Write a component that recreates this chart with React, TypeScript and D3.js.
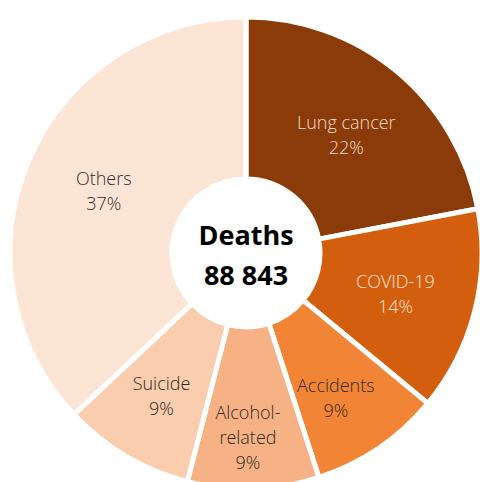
import React, { useRef, useEffect } from 'react';
import * as d3 from 'd3';

// data (share of deaths, %)
const causes = ['Lung cancer', 'COVID-19', 'Accidents', 'Alcohol-related', 'Suicide', 'Others'];
const shares = [22, 14, 9, 9, 9, 37];
const labelLines = [['Lung cancer'], ['COVID-19'], ['Accidents'], ['Alcohol-', 'related'], ['Suicide'], ['Others']];
const centerTitle = 'Deaths';
const centerTotal = '88 843';

const colors = ['#8b3b07', '#d35f0e', '#f28535', '#f6b285', '#f9cdad', '#fde5d6'];
const textColors = ['#f3dccb', '#fbe3d3', '#33291f', '#33291f', '#33291f', '#33291f'];
// label placement tweaks (angle shift in degrees, radius in px)
const labelAngleShift = [0.7, 1, 2.5, 1.2, 0, 0];
const labelRadius = [155, 155, 171, 185, 166, 155];

function App() {
  const svgRef = useRef(null);

  useEffect(() => {
    const w = 480;
    const h = 482;
    const cx = 246;
    const cy = 253;
    const outerR = 236;
    const innerR = 74;

    const svg = d3.select(svgRef.current).attr('width', w).attr('height', h);
    svg.selectAll('*').remove();

    const data = causes.map((c, i) => ({ cause: c, value: shares[i], i }));
    const pie = d3.pie<any>().value((d: any) => d.value).sort(null);
    const arcs = pie(data);
    const arc = d3.arc<any>().innerRadius(innerR).outerRadius(outerR);

    const g = svg.append('g').attr('transform', `translate(${cx},${cy})`);

    g.selectAll('path.slice')
      .data(arcs)
      .join('path')
      .attr('class', 'slice')
      .attr('d', arc as any)
      .attr('fill', (d: any) => colors[d.data.i])
      .attr('stroke', '#fff')
      .attr('stroke-width', 5)
      .attr('stroke-linejoin', 'miter');

    // slice labels
    arcs.forEach((a: any) => {
      const i = a.data.i;
      const mid = (a.startAngle + a.endAngle) / 2 + (labelAngleShift[i] * Math.PI) / 180;
      const x = Math.sin(mid) * labelRadius[i];
      const y = -Math.cos(mid) * labelRadius[i];
      const lines = [...labelLines[i], `${shares[i]}%`];
      const lh = 25;
      const t = g
        .append('text')
        .attr('text-anchor', 'middle')
        .attr('font-family', 'Open Sans, sans-serif')
        .attr('font-weight', 300)
        .attr('font-size', 18)
        .attr('fill', textColors[i]);
      lines.forEach((ln, k) => {
        t.append('tspan')
          .attr('x', x)
          .attr('y', y + (k - (lines.length - 1) / 2) * lh + 6.5)
          .text(ln);
      });
    });

    // center
    g.append('circle').attr('r', innerR).attr('fill', '#fff');
    g.append('text')
      .attr('text-anchor', 'middle')
      .attr('y', -8)
      .attr('font-family', 'Open Sans, sans-serif')
      .attr('font-weight', 700)
      .attr('font-size', 27)
      .attr('fill', '#000')
      .text(centerTitle);
    g.append('text')
      .attr('text-anchor', 'middle')
      .attr('y', 32)
      .attr('font-family', 'Open Sans, sans-serif')
      .attr('font-weight', 700)
      .attr('font-size', 27)
      .attr('fill', '#000')
      .text(centerTotal);
  }, []);

  return (
    <div style={{ position: 'absolute', left: 0, top: 0 }}>
      <svg ref={svgRef} style={{ display: 'block' }}></svg>
    </div>
  );
}

export default App;
